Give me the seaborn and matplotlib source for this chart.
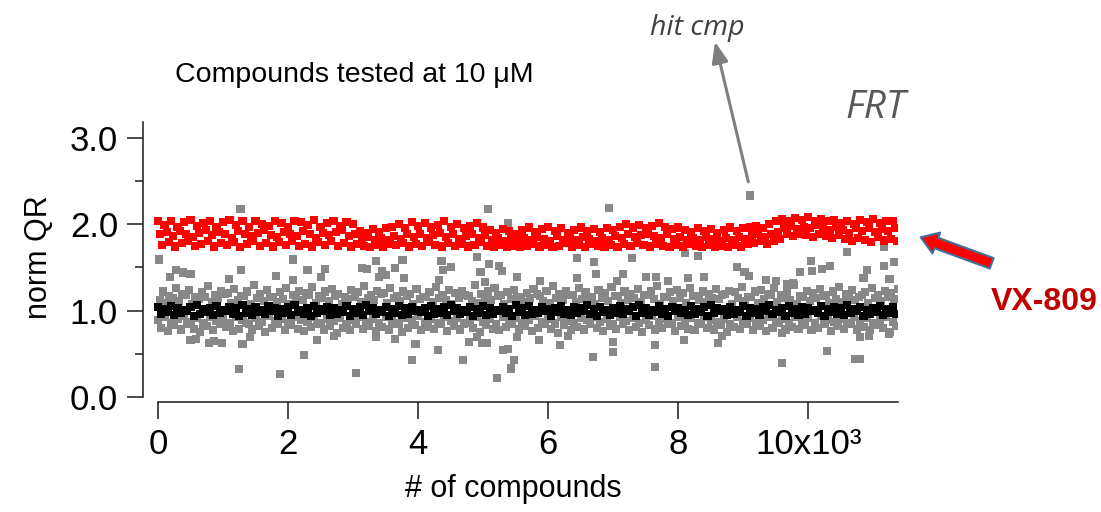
import numpy as np
import pandas as pd
import matplotlib
matplotlib.use("Agg")
import matplotlib.pyplot as plt
import seaborn as sns

# positive control (VX-809) wells, three rows of samples, one every 100 compounds
red_top = [2.03, 1.99, 2.04, 1.97, 2.02, 2.05, 1.98, 2.01, 2.04, 1.96,
           2.02, 2.05, 1.99, 2.03, 1.97, 2.04, 2.00, 1.98, 2.03, 2.01,
           1.96, 2.04, 2.02, 1.99, 2.05, 1.97, 2.01, 2.03, 1.98, 2.02,
           2.00, 1.92, 1.90, 1.94, 1.91, 1.95,
           1.97, 2.00, 1.95, 2.02, 1.98, 2.01, 1.96, 1.99, 2.03, 1.97, 2.00, 1.95, 1.98, 2.01, 1.96,
           1.93, 1.90, 1.94, 1.92, 1.89,
           1.93, 1.96, 1.91, 1.94, 1.97, 1.92, 1.95, 1.90, 1.93, 1.96,
           1.92, 1.94, 1.91, 1.95, 1.93, 1.97, 2.00, 1.96, 1.99, 1.95,
           1.98, 2.01, 1.97, 1.94, 1.96, 1.93, 1.91, 1.95, 1.92, 1.94,
           1.90, 1.93, 1.96, 1.92, 1.95,
           1.96, 1.98, 1.95, 2.00, 2.03,
           2.06, 2.04, 2.07, 2.05, 2.08, 2.04, 2.06, 2.03, 2.05,
           2.01, 2.04, 2.00, 2.05, 2.02, 2.06, 2.01, 2.04, 2.03]
red_mid = [1.88, 1.91, 1.86, 1.92, 1.89, 1.85, 1.90, 1.93, 1.87, 1.91,
           1.88, 1.84, 1.92, 1.89, 1.86, 1.90, 1.93, 1.87, 1.85, 1.91,
           1.89, 1.86, 1.92, 1.88, 1.84, 1.90, 1.87, 1.91, 1.93, 1.86,
           1.89, 1.83, 1.85, 1.81, 1.84, 1.82,
           1.86, 1.83, 1.88, 1.85, 1.89, 1.84, 1.87, 1.90, 1.85, 1.88, 1.83, 1.86, 1.89, 1.84, 1.87,
           1.82, 1.84, 1.80, 1.83, 1.81,
           1.84, 1.81, 1.85, 1.83, 1.80, 1.86, 1.82, 1.84, 1.81, 1.85,
           1.83, 1.80, 1.84, 1.82, 1.86, 1.84, 1.88, 1.85, 1.87, 1.89,
           1.86, 1.84, 1.88, 1.83, 1.85, 1.82, 1.84, 1.81, 1.85, 1.83,
           1.80, 1.84, 1.82, 1.85, 1.83,
           1.86, 1.88, 1.85, 1.89, 1.91,
           1.96, 1.98, 1.94, 1.97, 1.95, 1.99, 1.96, 1.93, 1.97,
           1.93, 1.90, 1.95, 1.92, 1.96, 1.91, 1.94, 1.92, 1.95]
red_bot = [1.76, 1.79, 1.74, 1.78, 1.81, 1.75, 1.77, 1.80, 1.74, 1.78,
           1.76, 1.79, 1.73, 1.77, 1.80, 1.75, 1.78, 1.74, 1.79, 1.76,
           1.81, 1.75, 1.77, 1.74, 1.79, 1.76, 1.80, 1.75, 1.78, 1.74,
           1.77, 1.75, 1.73, 1.76, 1.74, 1.77,
           1.76, 1.78, 1.74, 1.77, 1.75, 1.79, 1.76, 1.74, 1.78, 1.75, 1.77, 1.74, 1.76, 1.79, 1.75,
           1.74, 1.76, 1.73, 1.75, 1.74,
           1.75, 1.77, 1.74, 1.76, 1.73, 1.75, 1.78, 1.74, 1.76, 1.73,
           1.77, 1.75, 1.74, 1.76, 1.73, 1.77, 1.75, 1.78, 1.76, 1.74,
           1.77, 1.75, 1.73, 1.76, 1.74, 1.77, 1.75, 1.73, 1.76, 1.74,
           1.75, 1.73, 1.76, 1.74, 1.77,
           1.78, 1.80, 1.77, 1.81, 1.83,
           1.88, 1.86, 1.89, 1.87, 1.85, 1.88, 1.86, 1.84, 1.87,
           1.83, 1.80, 1.84, 1.82, 1.79, 1.85, 1.81, 1.83, 1.80]

# negative control (DMSO) wells
black_hi = [1.04, 1.02, 1.05, 1.03, 1.01, 1.04, 1.06, 1.02, 1.03, 1.05,
            1.01, 1.04, 1.03, 1.06, 1.02, 1.04, 1.01, 1.05, 1.03, 1.02,
            1.04, 1.06, 1.01, 1.03, 1.05, 1.02, 1.04, 1.03, 1.01, 1.05,
            1.02, 1.04, 1.06, 1.03, 1.01, 1.04, 1.02, 1.05, 1.03, 1.04,
            1.01, 1.03, 1.05, 1.02, 1.04, 1.06, 1.03, 1.01, 1.04, 1.02,
            1.05, 1.03, 1.01, 1.04, 1.02, 1.06, 1.03, 1.05, 1.01, 1.04,
            1.02, 1.03, 1.05, 1.01, 1.04, 1.03, 1.06, 1.02, 1.04, 1.01,
            1.03, 1.05, 1.02, 1.04, 1.06, 1.03, 1.01, 1.05, 1.02, 1.04,
            1.03, 1.01, 1.05, 1.02, 1.04, 1.06, 1.03, 1.02, 1.04, 1.01,
            1.05, 1.03, 1.02, 1.04, 1.06, 1.01, 1.03, 1.05, 1.02, 1.04,
            1.03, 1.01, 1.05, 1.02, 1.04, 1.03, 1.06, 1.02, 1.04, 1.01,
            1.03, 1.05, 1.02, 1.04]
black_lo = [0.96, 0.98, 0.95, 0.97, 0.99, 0.94, 0.96, 0.98, 0.95, 0.97,
            0.99, 0.96, 0.94, 0.97, 0.95, 0.98, 0.96, 0.99, 0.94, 0.97,
            0.95, 0.98, 0.96, 0.94, 0.97, 0.99, 0.95, 0.96, 0.98, 0.94,
            0.97, 0.95, 0.99, 0.96, 0.98, 0.94, 0.97, 0.95, 0.96, 0.99,
            0.98, 0.94, 0.96, 0.97, 0.95, 0.99, 0.96, 0.98, 0.94, 0.97,
            0.95, 0.96, 0.99, 0.97, 0.94, 0.98, 0.95, 0.96, 0.97, 0.99,
            0.94, 0.98, 0.96, 0.95, 0.97, 0.99, 0.96, 0.94, 0.98, 0.95,
            0.97, 0.96, 0.99, 0.94, 0.97, 0.95, 0.98, 0.96, 0.94, 0.99,
            0.97, 0.95, 0.96, 0.98, 0.94, 0.97, 0.99, 0.95, 0.96, 0.98,
            0.94, 0.97, 0.95, 0.99, 0.96, 0.98, 0.94, 0.97, 0.95, 0.96,
            0.99, 0.97, 0.94, 0.98, 0.96, 0.95, 0.97, 0.99, 0.94, 0.96,
            0.98, 0.95, 0.97, 0.96]

# test compounds, dense part of the distribution
gray_a = [1.12, 1.09, 1.15, 1.11, 1.18, 1.08, 1.13, 1.16, 1.10, 1.14,
          1.19, 1.09, 1.12, 1.17, 1.08, 1.14, 1.11, 1.16, 1.10, 1.13,
          1.07, 1.15, 1.12, 1.18, 1.09, 1.14, 1.11, 1.17, 1.08, 1.13,
          1.16, 1.10, 1.15, 1.12, 1.19, 1.09, 1.14, 1.11, 1.17, 1.08,
          1.13, 1.16, 1.10, 1.15, 1.12, 1.07, 1.14, 1.18, 1.11, 1.09,
          1.15, 1.12, 1.17, 1.08, 1.13, 1.16, 1.10, 1.14, 1.19, 1.11,
          1.09, 1.15, 1.12, 1.18, 1.10, 1.13, 1.16, 1.08, 1.14, 1.11,
          1.17, 1.09, 1.12, 1.15, 1.10, 1.18, 1.13, 1.08, 1.16, 1.11,
          1.14, 1.09, 1.17, 1.12, 1.10, 1.15, 1.13, 1.19, 1.08, 1.14,
          1.11, 1.16, 1.09, 1.13, 1.18, 1.10, 1.15, 1.12, 1.08, 1.16,
          1.11, 1.14, 1.17, 1.09, 1.13, 1.10, 1.15, 1.12, 1.18, 1.09,
          1.14, 1.11, 1.16, 1.13]
gray_b = [1.22, 1.17, 1.26, 1.19, 1.24, 1.16, 1.21, 1.28, 1.18, 1.23,
          1.20, 1.25, 1.17, 1.22, 1.29, 1.19, 1.24, 1.16, 1.21, 1.26,
          1.18, 1.23, 1.20, 1.27, 1.17, 1.22, 1.25, 1.19, 1.16, 1.24,
          1.21, 1.28, 1.18, 1.23, 1.20, 1.26, 1.17, 1.22, 1.19, 1.25,
          1.16, 1.21, 1.27, 1.18, 1.24, 1.20, 1.23, 1.17, 1.29, 1.19,
          1.22, 1.26, 1.18, 1.21, 1.24, 1.16, 1.20, 1.25, 1.17, 1.23,
          1.28, 1.19, 1.22, 1.18, 1.26, 1.21, 1.16, 1.24, 1.20, 1.27,
          1.17, 1.22, 1.19, 1.25, 1.18, 1.23, 1.28, 1.16, 1.21, 1.24,
          1.20, 1.26, 1.17, 1.22, 1.19, 1.25, 1.18, 1.23, 1.21, 1.27,
          1.16, 1.22, 1.24, 1.19, 1.26, 1.18, 1.21, 1.29, 1.17, 1.23,
          1.20, 1.25, 1.18, 1.22, 1.27, 1.19, 1.24, 1.16, 1.21, 1.26,
          1.18, 1.23, 1.20, 1.25]
gray_c = [0.89, 0.92, 0.86, 0.90, 0.94, 0.87, 0.91, 0.85, 0.93, 0.88,
          0.90, 0.86, 0.92, 0.89, 0.84, 0.91, 0.87, 0.94, 0.88, 0.90,
          0.85, 0.92, 0.89, 0.87, 0.93, 0.86, 0.90, 0.88, 0.91, 0.84,
          0.89, 0.93, 0.87, 0.90, 0.86, 0.92, 0.88, 0.85, 0.91, 0.89,
          0.94, 0.87, 0.90, 0.86, 0.92, 0.88, 0.91, 0.85, 0.89, 0.93,
          0.87, 0.90, 0.84, 0.92, 0.88, 0.91, 0.86, 0.89, 0.94, 0.87,
          0.90, 0.85, 0.92, 0.88, 0.86, 0.91, 0.89, 0.93, 0.87, 0.90,
          0.84, 0.92, 0.88, 0.91, 0.86, 0.89, 0.94, 0.87, 0.90, 0.85,
          0.92, 0.88, 0.91, 0.86, 0.93, 0.89, 0.87, 0.90, 0.84, 0.92,
          0.88, 0.91, 0.86, 0.89, 0.93, 0.87, 0.90, 0.85, 0.92, 0.88,
          0.91, 0.86, 0.94, 0.89, 0.87, 0.90, 0.85, 0.92, 0.88, 0.91,
          0.86, 0.89, 0.93, 0.87]
gray_d = [0.80, 0.76, 0.83, 0.78, 0.85, 0.79, 0.75, 0.82, 0.77, 0.84,
          0.81, 0.76, 0.79, 0.86, 0.78, 0.82, 0.75, 0.80, 0.84, 0.77,
          0.83, 0.79, 0.76, 0.81, 0.85, 0.78, 0.82, 0.74, 0.80, 0.77,
          0.84, 0.79, 0.82, 0.76, 0.81, 0.78, 0.85, 0.75, 0.80, 0.83,
          0.77, 0.81, 0.79, 0.84, 0.76, 0.82, 0.78, 0.86, 0.80, 0.75,
          0.83, 0.79, 0.77, 0.81, 0.84, 0.78, 0.82, 0.76, 0.80, 0.85,
          0.79, 0.74, 0.83, 0.77, 0.81, 0.78, 0.84, 0.80, 0.76, 0.82,
          0.79, 0.85, 0.77, 0.81, 0.75, 0.83, 0.78, 0.80, 0.84, 0.76,
          0.82, 0.79, 0.77, 0.85, 0.80, 0.78, 0.83, 0.75, 0.81, 0.79,
          0.84, 0.77, 0.82, 0.76, 0.80, 0.86, 0.78, 0.81, 0.79, 0.83,
          0.77, 0.80, 0.84, 0.76, 0.82, 0.79, 0.85, 0.78, 0.81, 0.77,
          0.83, 0.80, 0.75, 0.82]

# test compounds far from the bulk
out_x = [1270, 5080, 5380, 20, 2080, 3350, 3760, 4360, 4910, 5090, 5240, 280, 390, 500,
         1280, 2300, 2570, 3140, 3220, 3450, 3640, 4380, 4500, 4960, 5290, 180, 1090, 1820,
         2080, 2510, 3400, 3500, 3780, 4320, 5030, 5520,
         9100, 6930, 6440, 6710, 7290, 8110, 8300, 10040, 10590, 11160, 11320, 8910, 9020,
         9090, 9870, 10060, 10210, 10340, 10910, 11160, 11250, 10850, 5880, 6450, 6740, 7060,
         7150, 7510, 7660, 7840, 8150, 8400, 9350, 9500, 9680, 9770,
         500, 590, 790, 860, 980, 1300, 1410, 2240, 2450, 2710, 3350, 3640, 3960, 4310, 4780,
         4910, 4980, 5060, 5310, 5380, 5520, 3910, 4690, 5480, 5430, 1250, 1870, 3040, 5210,
         5860, 6180, 6310, 7000, 7000, 6690, 7640, 7650, 8090, 8610, 8670, 9600, 10290, 10720,
         10800, 10800, 10930, 11240, 9590]
out_y = [2.17, 2.17, 2.01, 1.59, 1.59, 1.57, 1.58, 1.57, 1.62, 1.54, 1.52, 1.47, 1.44, 1.42,
         1.47, 1.47, 1.48, 1.49, 1.48, 1.46, 1.49, 1.47, 1.50, 1.45, 1.46, 1.39, 1.36, 1.40,
         1.35, 1.39, 1.39, 1.41, 1.38, 1.35, 1.33, 1.39,
         2.33, 2.19, 1.61, 1.56, 1.61, 1.67, 1.63, 1.57, 1.68, 1.74, 1.56, 1.50, 1.45,
         1.40, 1.45, 1.46, 1.48, 1.51, 1.47, 1.51, 1.36, 1.38, 1.34, 1.38, 1.42, 1.34,
         1.42, 1.39, 1.39, 1.34, 1.38, 1.39, 1.35, 1.34, 1.31, 1.32,
         0.66, 0.67, 0.62, 0.65, 0.62, 0.61, 0.69, 0.49, 0.66, 0.71, 0.69, 0.67, 0.61, 0.54, 0.64,
         0.69, 0.62, 0.62, 0.54, 0.56, 0.69, 0.43, 0.43, 0.43, 0.33, 0.32, 0.27, 0.28, 0.22,
         0.66, 0.60, 0.71, 0.64, 0.52, 0.46, 0.60, 0.35, 0.66, 0.62, 0.71, 0.74, 0.53, 0.44,
         0.44, 0.69, 0.71, 0.73, 0.39]

xtick_vals = [0, 2000, 4000, 6000, 8000, 10000]
xtick_labels = ["0", "2", "4", "6", "8", "10x10\u00b3"]
ytick_vals = [0, 1, 2, 3]
ytick_labels = ["0.0", "1.0", "2.0", "3.0"]

step = 100


def row(vals, offset, group):
    return pd.DataFrame({"compound": offset + step * np.arange(len(vals)),
                         "normQR": vals, "group": group})


df = pd.concat([
    pd.DataFrame({"compound": out_x, "normQR": out_y, "group": "cmp"}),
    row(gray_a, 25, "cmp"), row(gray_b, 75, "cmp"),
    row(gray_c, 0, "cmp"), row(gray_d, 50, "cmp"),
    row(red_top, 0, "pos"), row(red_mid, 33, "pos"), row(red_bot, 67, "pos"),
    row(black_hi, 0, "neg"), row(black_lo, 50, "neg"),
], ignore_index=True)

sns.set_style("ticks")
plt.rcParams["font.family"] = ["Liberation Sans", "DejaVu Sans"]
plt.rcParams["text.color"] = "black"
plt.rcParams["axes.labelcolor"] = "black"
plt.rcParams["xtick.color"] = "black"
plt.rcParams["ytick.color"] = "black"

W, H = 1101, 512
fig = plt.figure(figsize=(W / 100, H / 100), dpi=100)
ax = fig.add_axes([143 / W, 1 - 397 / H, (898 - 143) / W, (397 - 122) / H])

sns.scatterplot(data=df, x="compound", y="normQR", hue="group",
                palette={"cmp": "#888888", "pos": "#ff0000", "neg": "#000000"},
                marker="s", s=34, linewidth=0, legend=False, ax=ax)

ax.set_xlim(-230, 11380)
ax.set_ylim(0, 3.18)
for side in ["top", "right"]:
    ax.spines[side].set_visible(False)
for side in ["left", "bottom"]:
    ax.spines[side].set_linewidth(1.1)
    ax.spines[side].set_color("#1a1a1a")
ax.spines["bottom"].set_position(("outward", 3.6))
ax.spines["bottom"].set_bounds(0, 11380)

ax.set_xticks(xtick_vals, xtick_labels)
ax.set_yticks(ytick_vals, ytick_labels)
ax.set_yticks([0.5, 1.5, 2.5], minor=True)
ax.tick_params(axis="y", which="major", length=11.5, width=1.1, pad=6.5,
               labelsize=25, color="#1a1a1a", labelcolor="black")
ax.tick_params(axis="y", which="minor", length=5.5, width=1.1, color="#1a1a1a")
ax.tick_params(axis="x", which="major", length=12, width=1.1, pad=6.9,
               labelsize=25, color="#1a1a1a", labelcolor="black")

ax.set_xlabel("# of compounds", fontsize=22, color="black")
ax.set_ylabel("norm QR", fontsize=22, color="black")
ax.xaxis.set_label_coords(0.4907, -0.2815)
ax.yaxis.set_label_coords(-0.1185, 0.509)

fig.text(175 / W, 1 - 81.7 / H, "Compounds tested at 10 \u03bcM", fontsize=20.5,
         color="black", ha="left", va="baseline")
fig.text(697 / W, 1 - 35 / H, "hit cmp", fontsize=20.5, style="italic",
         family=["Open Sans", "DejaVu Sans"], color="#404040", ha="center", va="baseline")
fig.text(845 / W, 1 - 118.3 / H, "FRT", fontsize=28, style="italic",
         family=["Open Sans", "DejaVu Sans"], color="#595959", ha="left", va="baseline")
fig.text(991 / W, 1 - 310 / H, "VX-809", fontsize=23, weight="bold",
         color="#c00000", ha="left", va="baseline")

ax.annotate("", xy=(715, H - 41.7), xytext=(748.3, H - 181.7),
            xycoords="figure pixels", textcoords="figure pixels",
            arrowprops=dict(arrowstyle="-|>,head_length=0.9,head_width=0.35",
                            color="#7f7f7f", lw=2.2, mutation_scale=14,
                            shrinkA=0, shrinkB=0))
ax.annotate("", xy=(920.7, H - 237.3), xytext=(991.7, H - 263.3),
            xycoords="figure pixels", textcoords="figure pixels",
            arrowprops=dict(arrowstyle="simple,head_length=0.6,head_width=0.8,tail_width=0.4",
                            fc="#ff0000", ec="#41719c", lw=1.5, mutation_scale=20,
                            shrinkA=0, shrinkB=0))

fig.savefig("out.png", dpi=100)
